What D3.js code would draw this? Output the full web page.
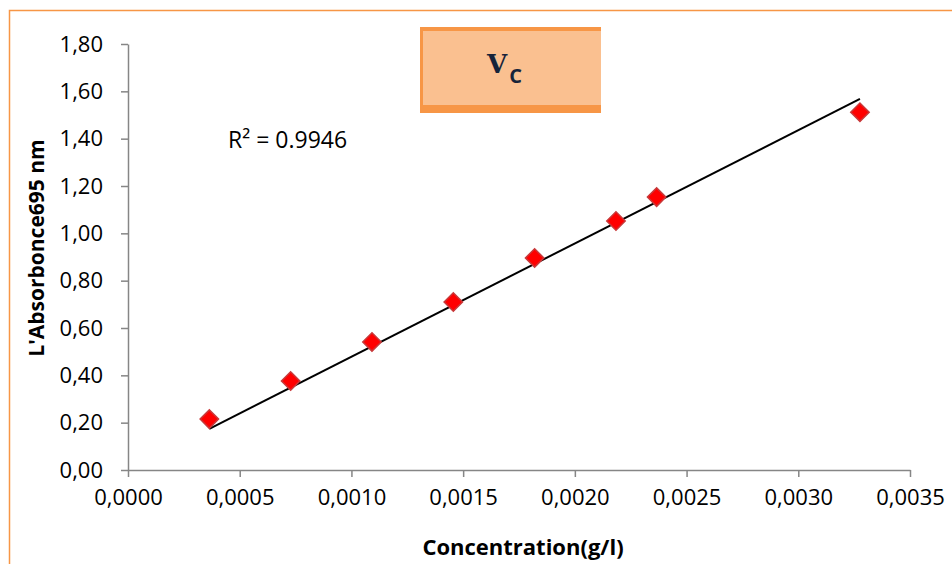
<!DOCTYPE html>
<html>
<head>
<meta charset="utf-8">
<script src="https://cdn.jsdelivr.net/npm/d3@7"></script>
<style>
  html, body { margin: 0; padding: 0; background: #fff; }
  svg { display: block; }
</style>
</head>
<body>
<svg id="chart" width="952" height="564"></svg>
<script>
// Calibration series: concentration (g/l) vs absorbance at 695 nm
const concentrations = [0.000364, 0.000728, 0.001092, 0.001456, 0.00182, 0.002184, 0.002366, 0.003276];
const absorbances    = [0.215, 0.376, 0.541, 0.710, 0.896, 1.052, 1.153, 1.512];

const xTickValues = [0, 0.0005, 0.0010, 0.0015, 0.0020, 0.0025, 0.0030, 0.0035];
const xTickLabels = ["0,0000", "0,0005", "0,0010", "0,0015", "0,0020", "0,0025", "0,0030", "0,0035"];
const yTickValues = [0, 0.2, 0.4, 0.6, 0.8, 1.0, 1.2, 1.4, 1.6, 1.8];
const yTickLabels = ["0,00", "0,20", "0,40", "0,60", "0,80", "1,00", "1,20", "1,40", "1,60", "1,80"];

const r2Label = "R² = 0.9946";
const xTitle = "Concentration(g/l)";
const yTitle = "L'Absorbonce695 nm";

const svg = d3.select("#chart");
const font = "'Open Sans', 'Liberation Sans', sans-serif";
const axisColor = "#868686";

const x = d3.scaleLinear().domain([0, 0.0035]).range([128, 910]);
const y = d3.scaleLinear().domain([0, 1.8]).range([470, 44]);

// outer frame of the chart area
svg.append("rect")
  .attr("x", 9.5).attr("y", 10.5)
  .attr("width", 960).attr("height", 570)
  .attr("fill", "none")
  .attr("stroke", "#F79646").attr("stroke-width", 1.5);

// y axis
const yAxis = d3.axisLeft(y)
  .tickValues(yTickValues)
  .tickFormat((d, i) => yTickLabels[i])
  .tickSize(7).tickSizeOuter(0).tickPadding(18);
const gy = svg.append("g").attr("transform", "translate(128,0)").call(yAxis);

// x axis
const xAxis = d3.axisBottom(x)
  .tickValues(xTickValues)
  .tickFormat((d, i) => xTickLabels[i])
  .tickSize(7).tickSizeOuter(0).tickPadding(12);
const gx = svg.append("g").attr("transform", "translate(0,470)").call(xAxis);

[gx, gy].forEach(g => {
  g.select(".domain").attr("stroke", axisColor).attr("stroke-width", 1.5);
  g.selectAll(".tick line").attr("stroke", axisColor).attr("stroke-width", 1.5);
  g.selectAll(".tick text")
    .attr("fill", "#000")
    .style("font-family", font)
    .style("font-size", "22px");
});

// linear trendline through the origin (least squares)
const sxy = d3.sum(concentrations, (c, i) => c * absorbances[i]);
const sxx = d3.sum(concentrations, c => c * c);
const slope = sxy / sxx;
const xExt = d3.extent(concentrations);
svg.append("line")
  .attr("x1", x(xExt[0])).attr("y1", y(slope * xExt[0]))
  .attr("x2", x(xExt[1])).attr("y2", y(slope * xExt[1]))
  .attr("stroke", "#000").attr("stroke-width", 2);

// data markers (diamonds)
const diamond = d3.symbol().type(d3.symbolSquare).size(170);
svg.append("g").selectAll("path")
  .data(concentrations.map((c, i) => [c, absorbances[i]]))
  .join("path")
  .attr("d", diamond)
  .attr("transform", d => `translate(${x(d[0])},${y(d[1])}) rotate(45)`)
  .attr("fill", "#FF0000")
  .attr("stroke", "#C8393A")
  .attr("stroke-width", 1.5);

// R² annotation
svg.append("text")
  .attr("x", 228).attr("y", 148)
  .style("font-family", font).style("font-size", "23px")
  .text(r2Label);

// axis titles
svg.append("text")
  .attr("x", 523).attr("y", 555)
  .attr("text-anchor", "middle")
  .style("font-family", font).style("font-size", "22px").style("font-weight", "bold")
  .text(xTitle);

svg.append("text")
  .attr("transform", "translate(44,248) rotate(-90)")
  .attr("text-anchor", "middle")
  .style("font-family", font).style("font-size", "21px").style("font-weight", "bold")
  .text(yTitle);

// title box
const box = svg.append("g");
box.append("rect")
  .attr("x", 420).attr("y", 27).attr("width", 181).attr("height", 86)
  .attr("fill", "#F79646");
box.append("rect")
  .attr("x", 423).attr("y", 31).attr("width", 178).attr("height", 74)
  .attr("fill", "#FAC090");
const title = box.append("text")
  .attr("x", 487).attr("y", 73)
  .attr("fill", "#17243A");
title.append("tspan")
  .style("font-family", "'DejaVu Serif', 'Liberation Serif', serif")
  .style("font-weight", "bold").style("font-size", "26px")
  .text("V");
title.append("tspan")
  .attr("dx", 2).attr("dy", 10)
  .style("font-family", font)
  .style("font-weight", "bold").style("font-size", "20px")
  .text("C");
</script>
</body>
</html>
